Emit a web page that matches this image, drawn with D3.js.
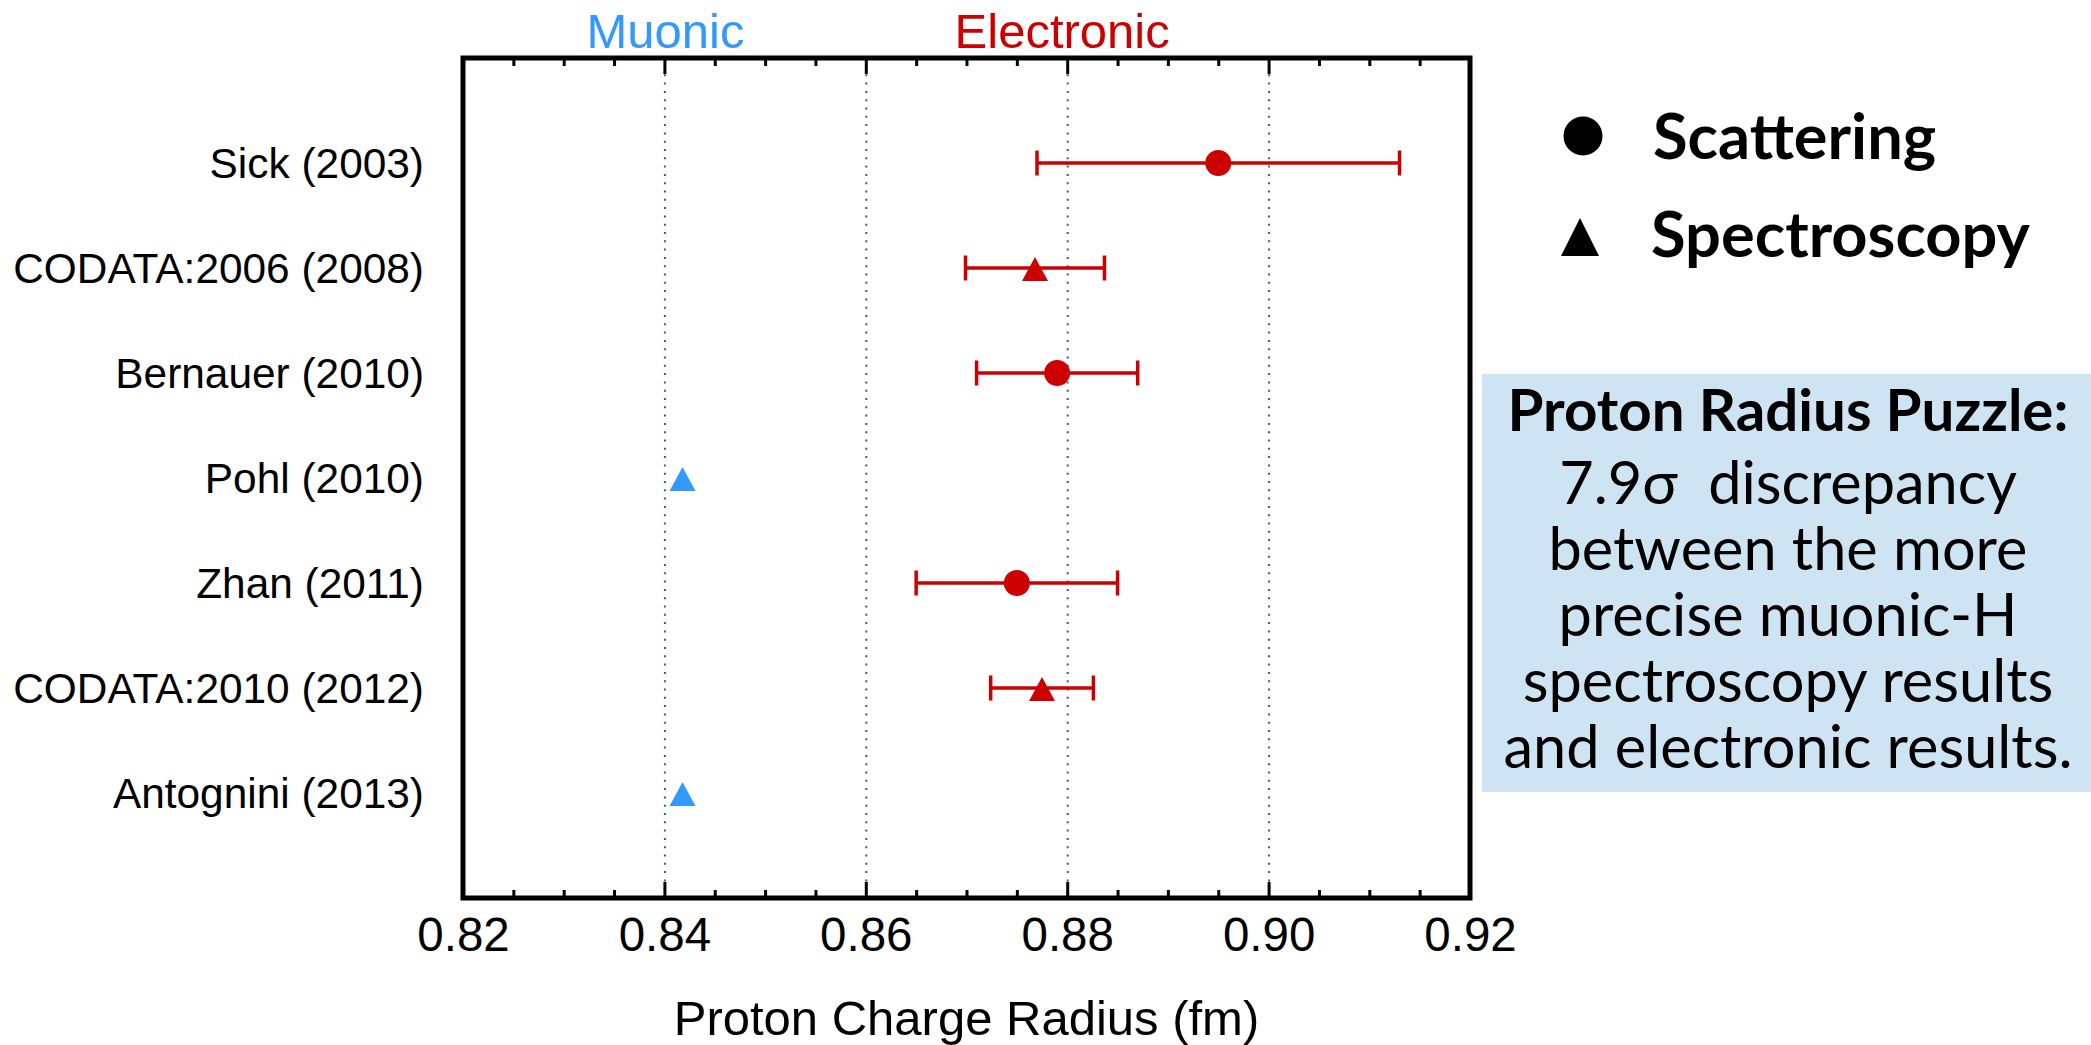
<!DOCTYPE html>
<html>
<head>
<meta charset="utf-8">
<script src="https://cdn.jsdelivr.net/npm/d3@7"></script>
<style>
  html, body { margin: 0; padding: 0; background: #fff; }
  svg { display: block; }
  text { white-space: pre; }
</style>
</head>
<body>
<svg id="chart" width="2091" height="1045"></svg>
<script>
// ---- data ----
const labels = ["Sick (2003)", "CODATA:2006 (2008)", "Bernauer (2010)", "Pohl (2010)", "Zhan (2011)", "CODATA:2010 (2012)", "Antognini (2013)"];
const values = [0.895, 0.8768, 0.879, 0.8418, 0.875, 0.8775, 0.8418];
const errors = [0.018, 0.0069, 0.008, 0, 0.010, 0.0051, 0];
const methods = ["Scattering", "Spectroscopy", "Scattering", "Spectroscopy", "Scattering", "Spectroscopy", "Spectroscopy"];
const kinds = ["Electronic", "Electronic", "Electronic", "Muonic", "Electronic", "Electronic", "Muonic"];
const xTicks = [0.82, 0.84, 0.86, 0.88, 0.90, 0.92];
const groupLabels = ["Muonic", "Electronic"];
const groupPositions = [0.8401, 0.8795];
const legendItems = ["Scattering", "Spectroscopy"];
const boxTitle = "Proton Radius Puzzle:";
const boxLines = ["7.9σ  discrepancy", "between the more", "precise muonic-H", "spectroscopy results", "and electronic results."];

// ---- layout ----
const svg = d3.select("#chart");
const L = 463, R = 1470, T = 58, B = 898;
const RED = "#cc0000", BLUE = "#3399ff";
const chartFont = "'Liberation Sans', Arial, Helvetica, sans-serif";
const textFont = "Lato, 'Open Sans', sans-serif";

const x = d3.scaleLinear().domain([0.82, 0.92]).range([L, R]);
const y = d3.scalePoint().domain(labels).range([T, B]).padding(1);
const color = k => k === "Muonic" ? BLUE : RED;

const rows = labels.map((l, i) => ({label: l, v: values[i], e: errors[i], m: methods[i], k: kinds[i]}));

// gridlines (dotted)
const grid = svg.append("g").attr("transform", `translate(0,${B})`)
  .call(d3.axisBottom(x).tickValues(xTicks.slice(1, -1)).tickSize(-(B - T)).tickFormat(""));
grid.select(".domain").remove();
grid.selectAll("line").attr("stroke", "#555").attr("stroke-width", 2).attr("stroke-dasharray", "2,6.3");

// minor ticks bottom/top
const minorVals = d3.range(0, 21).map(i => 0.82 + i * 0.005).filter(v => !xTicks.some(t => Math.abs(t - v) < 1e-9));
const minB = svg.append("g").attr("transform", `translate(0,${B})`)
  .call(d3.axisBottom(x).tickValues(minorVals).tickSize(-8).tickFormat(""));
const minT = svg.append("g").attr("transform", `translate(0,${T})`)
  .call(d3.axisTop(x).tickValues(minorVals).tickSize(-8).tickFormat(""));
[minB, minT].forEach(g => { g.select(".domain").remove(); g.selectAll("line").attr("stroke", "#000").attr("stroke-width", 3); });

// major ticks + labels bottom
const axB = svg.append("g").attr("transform", `translate(0,${B})`)
  .call(d3.axisBottom(x).tickValues(xTicks).tickSize(-16).tickPadding(19).tickFormat(d3.format(".2f")));
axB.select(".domain").remove();
axB.selectAll("line").attr("stroke", "#000").attr("stroke-width", 3);
axB.selectAll("text").attr("font-family", chartFont).attr("font-size", 47.5).attr("fill", "#000");
const axT = svg.append("g").attr("transform", `translate(0,${T})`)
  .call(d3.axisTop(x).tickValues(xTicks).tickSize(-16).tickFormat(""));
axT.select(".domain").remove();
axT.selectAll("line").attr("stroke", "#000").attr("stroke-width", 3);

// y labels
const axL = svg.append("g").attr("transform", `translate(${L},0)`)
  .call(d3.axisLeft(y).tickSize(0).tickPadding(39));
axL.select(".domain").remove();
axL.selectAll("text").attr("font-family", chartFont).attr("font-size", 42.4).attr("fill", "#000").attr("dy", "0.35em");

// frame
svg.append("rect").attr("x", L).attr("y", T).attr("width", R - L).attr("height", B - T)
  .attr("fill", "none").attr("stroke", "#000").attr("stroke-width", 5);

// axis title
svg.append("text").attr("x", (L + R) / 2).attr("y", 1035).attr("text-anchor", "middle")
  .attr("font-family", chartFont).attr("font-size", 49).attr("fill", "#000")
  .text("Proton Charge Radius (fm)");

// group labels
svg.selectAll(".grp").data(groupLabels).join("text")
  .attr("x", (d, i) => x(groupPositions[i])).attr("y", 48).attr("text-anchor", "middle")
  .attr("font-family", chartFont).attr("font-size", 49).attr("fill", d => color(d))
  .text(d => d);

// error bars
const eb = svg.append("g").selectAll("g").data(rows.filter(d => d.e > 0)).join("g")
  .attr("stroke", d => color(d.k)).attr("stroke-width", 3.5);
eb.append("line").attr("x1", d => x(d.v - d.e)).attr("x2", d => x(d.v + d.e))
  .attr("y1", d => y(d.label)).attr("y2", d => y(d.label));
eb.append("line").attr("x1", d => x(d.v - d.e)).attr("x2", d => x(d.v - d.e))
  .attr("y1", d => y(d.label) - 12.5).attr("y2", d => y(d.label) + 12.5);
eb.append("line").attr("x1", d => x(d.v + d.e)).attr("x2", d => x(d.v + d.e))
  .attr("y1", d => y(d.label) - 12.5).attr("y2", d => y(d.label) + 12.5);

// markers
const tri = (cx, cy, w, h, up) => `M${cx},${cy - up}L${cx + w / 2},${cy - up + h}L${cx - w / 2},${cy - up + h}Z`;
const mk = svg.append("g");
mk.selectAll("circle").data(rows.filter(d => d.m === "Scattering")).join("circle")
  .attr("cx", d => x(d.v)).attr("cy", d => y(d.label)).attr("r", 13).attr("fill", d => color(d.k));
mk.selectAll("path").data(rows.filter(d => d.m === "Spectroscopy")).join("path")
  .attr("d", d => tri(x(d.v), y(d.label), 26, 24, 11)).attr("fill", d => color(d.k));

// legend
const lg = svg.append("g");
lg.append("circle").attr("cx", 1583).attr("cy", 136).attr("r", 19.5).attr("fill", "#000");
lg.append("path").attr("d", tri(1580, 237, 38, 38, 19)).attr("fill", "#000");
const legTexts = lg.selectAll("text").data(legendItems).join("text")
  .attr("x", (d, i) => i === 0 ? 1653 : 1651).attr("y", (d, i) => i === 0 ? 159 : 257)
  .attr("font-family", textFont).attr("font-weight", 700).attr("font-size", 60).attr("fill", "#000")
  .text(d => d);
{
  const n = legTexts.filter((d, i) => i === 1).node();
  const fs = 60 * 379 / n.getComputedTextLength();
  legTexts.attr("font-size", fs);
}

// info box
svg.append("rect").attr("x", 1482).attr("y", 374).attr("width", 2091 - 1482).attr("height", 418).attr("fill", "#cfe4f3");
const cx = 1788;
const title = svg.append("text").attr("x", cx).attr("y", 431).attr("text-anchor", "middle")
  .attr("font-family", textFont).attr("font-weight", 700).attr("font-size", 50).attr("fill", "#000")
  .text(boxTitle);
title.attr("font-size", 50 * 561 / title.node().getComputedTextLength());

const baselines = [504, 570, 636, 702, 768];
const lines = svg.selectAll(".bl").data(boxLines).join("text")
  .attr("x", cx).attr("y", (d, i) => baselines[i]).attr("text-anchor", "middle")
  .attr("font-family", textFont).attr("font-size", 50).attr("fill", "#000")
  .text(d => d);
{
  const n = lines.filter((d, i) => i === 4).node();
  const fs = 50 * 569 / n.getComputedTextLength();
  lines.attr("font-size", fs);
}
</script>
</body>
</html>
